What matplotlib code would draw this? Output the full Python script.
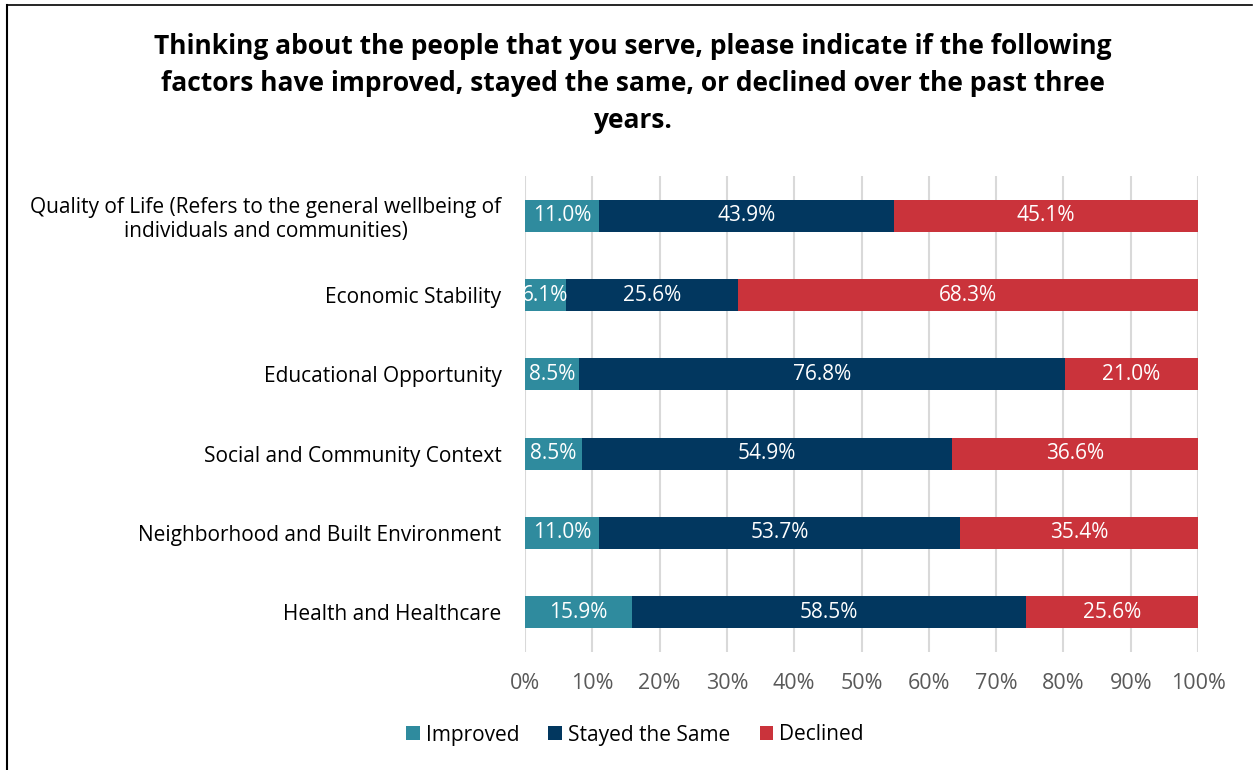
import matplotlib
matplotlib.use('Agg')
import matplotlib.pyplot as plt
import numpy as np
from matplotlib.lines import Line2D

plt.rcParams['font.family'] = ['Open Sans', 'DejaVu Sans']

CATEGORIES = [
    'Quality of Life (Refers to the general wellbeing of\nindividuals and communities)',
    'Economic Stability',
    'Educational Opportunity',
    'Social and Community Context',
    'Neighborhood and Built Environment',
    'Health and Healthcare',
]
IMPROVED = [11.0, 6.1, 8.5, 8.5, 11.0, 15.9]
STAYED = [43.9, 25.6, 76.8, 54.9, 53.7, 58.5]
DECLINED = [45.1, 68.3, 21.0, 36.6, 35.4, 25.6]
SERIES = ['Improved', 'Stayed the Same', 'Declined']
COLORS = ['#2F8B9E', '#02375F', '#CA333B']
TICKS = [0, 10, 20, 30, 40, 50, 60, 70, 80, 90, 100]

TITLE = ('Thinking about the people that you serve, please indicate if the following\n'
         'factors have improved, stayed the same, or declined over the past three\n'
         'years.')

fig = plt.figure(figsize=(12.53, 7.7), dpi=100)
ax = fig.add_axes([525 / 1253, 1 - 652 / 770, 673 / 1253, (652 - 176) / 770])

# 100% stacked: each row is scaled to its total, labels keep the raw values
raw = np.array([IMPROVED, STAYED, DECLINED])
totals = raw.sum(axis=0)
y = np.arange(len(CATEGORIES))
left = np.zeros(len(CATEGORIES))
for name, vals, col in zip(SERIES, raw, COLORS):
    widths = vals / totals * 100
    ax.barh(y, widths, left=left, height=0.4, color=col, label=name, zorder=3)
    for yi, l, w, v in zip(y, left, widths, vals):
        ax.text(l + w / 2, yi, f'{v:.1f}%', ha='center', va='center',
                color='white', fontsize=15, zorder=4, clip_on=True)
    left = left + widths

ax.set_xlim(0, 100)
ax.set_ylim(len(CATEGORIES) - 0.5, -0.5)
ax.set_yticks(y)
ax.set_yticklabels(CATEGORIES, fontsize=15, color='black', ha='right')
ax.set_xticks(TICKS)
ax.set_xticklabels([f'{t}%' for t in TICKS], fontsize=15.5, color='#595959')
ax.tick_params(axis='x', length=0, pad=15)
ax.tick_params(axis='y', length=0, pad=17)
for lab in ax.get_yticklabels():
    lab.set_multialignment('center')
ax.grid(axis='x', color='#D9D9D9', linewidth=1.5, zorder=0)
for s in ax.spines.values():
    s.set_visible(False)

fig.text(0.505, 1 - 33 / 770, TITLE, ha='center', va='top', fontsize=19,
         fontweight='bold', linespacing=1.48)

ax.legend(loc='center', bbox_to_anchor=(635 / 1253, 1 - 735 / 770), bbox_transform=fig.transFigure,
          ncol=3, frameon=False, fontsize=15, handlelength=0.65, handleheight=0.65,
          columnspacing=1.4, handletextpad=0.3)

fig.add_artist(Line2D([7 / 1253, 7 / 1253], [0, 1 - 5 / 770], color='black', linewidth=1.5,
                      transform=fig.transFigure))
fig.add_artist(Line2D([7 / 1253, 1252 / 1253], [1 - 5 / 770, 1 - 5 / 770], color='black',
                      linewidth=1.2, transform=fig.transFigure))

fig.savefig('out.png', dpi=100)
